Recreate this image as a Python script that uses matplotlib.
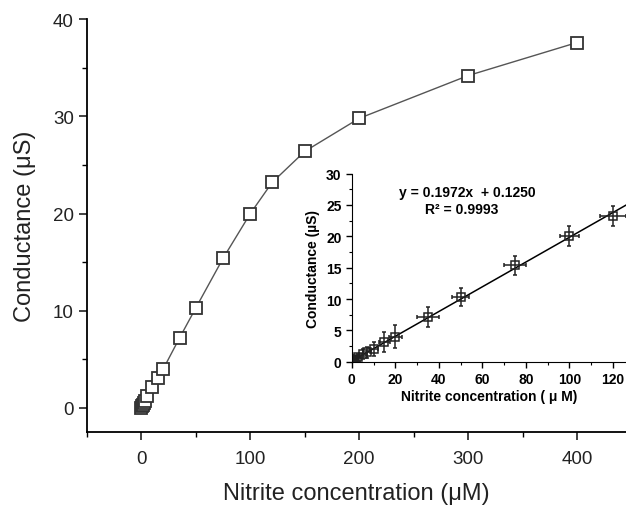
import numpy as np
import matplotlib
matplotlib.use('Agg')
import matplotlib.pyplot as plt
from matplotlib.ticker import MultipleLocator

plt.rcParams['font.family'] = ['Liberation Sans', 'DejaVu Sans']

# full calibration range
conc = [0, 0.5, 1, 2, 3, 5, 10, 15, 20, 35, 50, 75, 100, 120, 150, 200, 300, 400]
cond = [0.0, 0.15, 0.3, 0.5, 0.7, 1.2, 2.1, 3.1, 4.0, 7.2, 10.3, 15.4, 20.0, 23.2, 26.4, 29.8, 34.2, 37.6]

# linear range (inset), with error bars
lin_conc = [0, 0.5, 1, 2, 3, 5, 7, 10, 15, 20, 35, 50, 75, 100, 120]
lin_cond = [0.0, 0.15, 0.3, 0.5, 0.7, 1.2, 1.5, 2.1, 3.1, 4.0, 7.2, 10.3, 15.4, 20.0, 23.2]
lin_xerr = [0.5, 0.5, 0.5, 1, 1, 1.5, 2, 2, 2.5, 3, 5, 4, 5, 4.5, 6]
lin_yerr = [0.3, 0.3, 0.4, 0.5, 0.6, 0.8, 0.9, 1.1, 1.6, 1.8, 1.6, 1.4, 1.5, 1.6, 1.6]
slope, intercept = 0.1972, 0.1250

fig = plt.figure(figsize=(6.26, 5.06), dpi=100)

ax = fig.add_axes([0.139, 0.144, 0.861, 0.816])
ax.plot(conc, cond, '-', color='#555555', lw=1.0,
        marker='s', ms=9, mfc='white', mec='#333333', mew=1.3)
ax.set_xlim(-50, 445)
ax.set_ylim(-2.5, 40)
ax.spines['top'].set_visible(False)
ax.spines['right'].set_visible(False)
for s in ['left', 'bottom']:
    ax.spines[s].set_linewidth(1.3)
ax.set_xticks([0, 100, 200, 300, 400])
ax.set_yticks([0, 10, 20, 30, 40])
ax.xaxis.set_minor_locator(MultipleLocator(50))
ax.yaxis.set_minor_locator(MultipleLocator(5))
ax.tick_params(which='major', length=6, width=1.2, labelsize=13.5, colors='#222222')
ax.tick_params(axis='x', which='major', pad=7)
ax.tick_params(which='minor', length=3.5, width=1.0)
ax.set_xlabel('Nitrite concentration (\u03bcM)', fontsize=17, labelpad=11, color='#222222')
ax.set_ylabel('Conductance (\u03bcS)', fontsize=17, labelpad=12, color='#222222')

ins = fig.add_axes([0.562, 0.283, 0.438, 0.372])
fit_x = np.array([0, 126])
ins.plot(fit_x, slope * fit_x + intercept, '-', color='black', lw=1.1)
ins.errorbar(lin_conc, lin_cond, xerr=lin_xerr, yerr=lin_yerr, fmt='s',
             ms=6, mfc='none', mec='#222222', mew=1.1,
             ecolor='#222222', elinewidth=1.1, capsize=1.5)
ins.set_xlim(0, 126)
ins.set_ylim(0, 30)
ins.spines['top'].set_visible(False)
ins.spines['right'].set_visible(False)
ins.set_xticks([0, 20, 40, 60, 80, 100, 120])
ins.set_yticks([0, 5, 10, 15, 20, 25, 30])
ins.xaxis.set_minor_locator(MultipleLocator(10))
ins.yaxis.set_minor_locator(MultipleLocator(2.5))
ins.tick_params(which='major', length=4, width=1.0, labelsize=10)
ins.tick_params(which='minor', length=2.5, width=0.8)
for lab in ins.get_xticklabels() + ins.get_yticklabels():
    lab.set_fontweight('bold')
ins.set_xlabel('Nitrite concentration ( \u03bc M)', fontsize=10, fontweight='bold', labelpad=2)
ins.set_ylabel('Conductance (\u00b5S)', fontsize=10, fontweight='bold', labelpad=4)
ins.text(0.42, 0.9, 'y = 0.1972x  + 0.1250', transform=ins.transAxes,
         ha='center', va='center', fontsize=10, fontweight='bold')
ins.text(0.40, 0.81, 'R\u00b2 = 0.9993', transform=ins.transAxes,
         ha='center', va='center', fontsize=10, fontweight='bold')

fig.savefig('out.png', dpi=100)
